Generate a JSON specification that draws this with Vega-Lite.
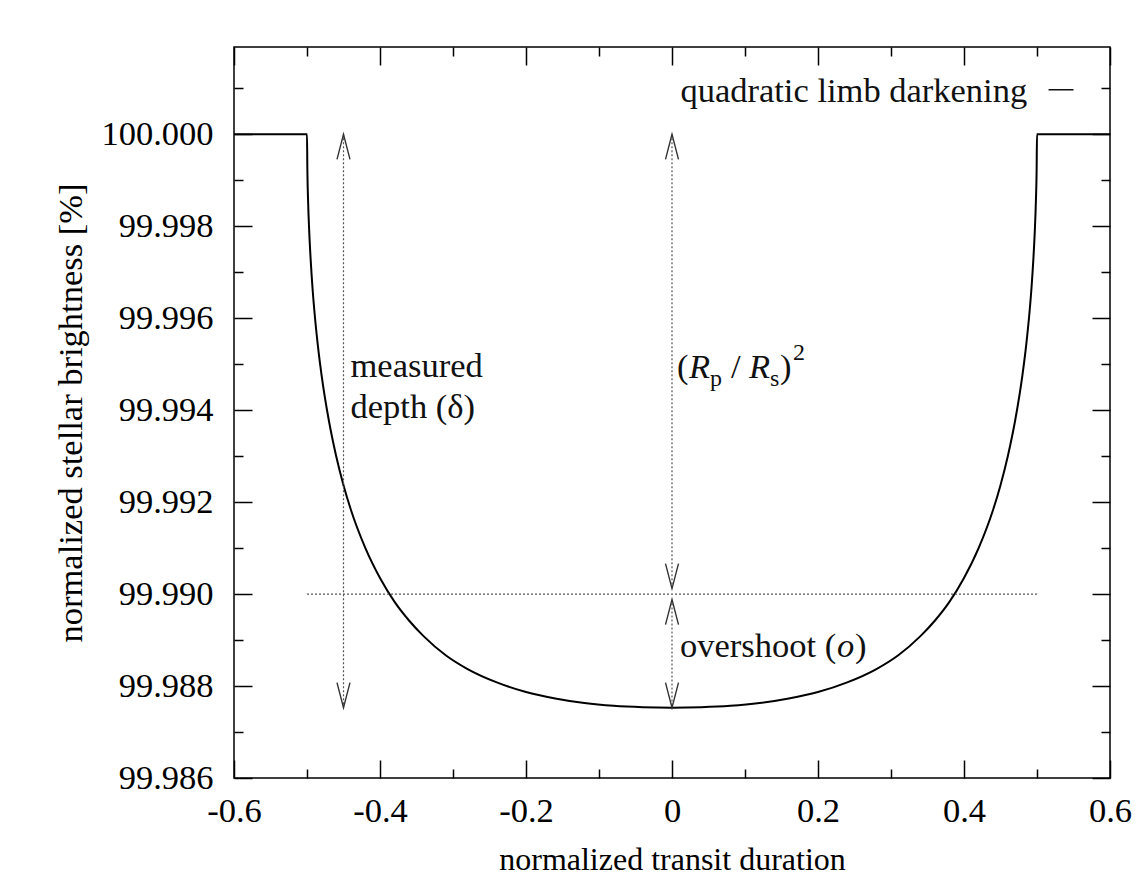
{
  "$schema": "https://vega.github.io/schema/vega-lite/v6.json",
  "width": 876,
  "height": 731,
  "autosize": {"type": "none"},
  "padding": {"left": 234, "top": 47, "right": 27, "bottom": 112},
  "background": "white",
  "config": {
    "view": {"stroke": "#000", "strokeWidth": 1.5},
    "font": "Liberation Serif",
    "axis": {
      "domain": false, "grid": false,
      "labelFont": "Liberation Serif", "labelFontSize": 34.5, "labelColor": "#000",
      "labelFlush": false, "labelOverlap": false,
      "titleFont": "Liberation Serif", "titleFontSize": 32, "titleFontWeight": "normal", "titleColor": "#000",
      "tickColor": "#000", "tickWidth": 1.5
    }
  },
  "datasets": {
    "curve": [
      {"x": -0.6, "y": 100.0}, {"x": -0.5, "y": 100.0}, {"x": -0.4995, "y": 99.99923}, {"x": -0.4985, "y": 99.99855},
      {"x": -0.497, "y": 99.9979}, {"x": -0.495, "y": 99.99728}, {"x": -0.4925, "y": 99.99667}, {"x": -0.49, "y": 99.99618},
      {"x": -0.485, "y": 99.99539}, {"x": -0.48, "y": 99.99476}, {"x": -0.47, "y": 99.99377}, {"x": -0.46, "y": 99.993},
      {"x": -0.45, "y": 99.99237}, {"x": -0.44, "y": 99.99184}, {"x": -0.42, "y": 99.991}, {"x": -0.4, "y": 99.99035},
      {"x": -0.38, "y": 99.98983}, {"x": -0.36, "y": 99.98942}, {"x": -0.34, "y": 99.98908}, {"x": -0.31, "y": 99.98867},
      {"x": -0.28, "y": 99.98837}, {"x": -0.24, "y": 99.98808}, {"x": -0.2, "y": 99.98787}, {"x": -0.16, "y": 99.98773},
      {"x": -0.12, "y": 99.98763}, {"x": -0.08, "y": 99.98757}, {"x": -0.04, "y": 99.98754}, {"x": 0, "y": 99.98753},
      {"x": 0.04, "y": 99.98754}, {"x": 0.08, "y": 99.98757}, {"x": 0.12, "y": 99.98763}, {"x": 0.16, "y": 99.98773},
      {"x": 0.2, "y": 99.98787}, {"x": 0.24, "y": 99.98808}, {"x": 0.28, "y": 99.98837}, {"x": 0.31, "y": 99.98867},
      {"x": 0.34, "y": 99.98908}, {"x": 0.36, "y": 99.98942}, {"x": 0.38, "y": 99.98983}, {"x": 0.4, "y": 99.99035},
      {"x": 0.42, "y": 99.991}, {"x": 0.44, "y": 99.99184}, {"x": 0.45, "y": 99.99237}, {"x": 0.46, "y": 99.993},
      {"x": 0.47, "y": 99.99377}, {"x": 0.48, "y": 99.99476}, {"x": 0.485, "y": 99.99539}, {"x": 0.49, "y": 99.99618},
      {"x": 0.4925, "y": 99.99667}, {"x": 0.495, "y": 99.99728}, {"x": 0.497, "y": 99.9979}, {"x": 0.4985, "y": 99.99855},
      {"x": 0.4995, "y": 99.99923}, {"x": 0.5, "y": 100.0}, {"x": 0.6, "y": 100.0}
    ]
  },
  "resolve": {"axis": {"x": "independent", "y": "independent"}},
  "layer": [
    {
      "data": {"name": "curve"},
      "mark": {"type": "line", "color": "#000", "strokeWidth": 2, "interpolate": "monotone"},
      "encoding": {
        "x": {"field": "x", "type": "quantitative", "scale": {"domain": [-0.6, 0.6], "nice": false, "zero": false},
          "axis": {"orient": "bottom", "values": [-0.6, -0.4, -0.2, 0, 0.2, 0.4, 0.6], "ticks": false, "labelPadding": 16,
            "labelExpr": "abs(datum.value) < 1e-9 ? '0' : replace(format(datum.value, '.1f'), '\u2212', '-')",
            "title": "normalized transit duration", "titlePadding": 17}},
        "y": {"field": "y", "type": "quantitative", "scale": {"domain": [99.986, 100.0019], "nice": false, "zero": false},
          "axis": {"orient": "left", "values": [99.986, 99.988, 99.99, 99.992, 99.994, 99.996, 99.998, 100.0], "ticks": false,
            "labelPadding": 21, "format": ".3f", "title": "normalized stellar brightness [%]", "titleFontSize": 34.5, "titlePadding": 12}}
      }
    },
    {
      "data": {"values": [{"x": -0.5, "x2": 0.5, "y": 99.99}]},
      "mark": {"type": "rule", "color": "#555", "strokeWidth": 1.2, "strokeDash": [2, 2]},
      "encoding": {
        "x": {"field": "x", "type": "quantitative", "scale": {"domain": [-0.6, 0.6], "nice": false, "zero": false},
          "axis": {"orient": "bottom", "values": [-0.6, -0.4, -0.2, 0, 0.2, 0.4, 0.6], "labels": false, "tickSize": -18, "title": null}},
        "x2": {"field": "x2"},
        "y": {"field": "y", "type": "quantitative", "scale": {"domain": [99.986, 100.0019], "nice": false, "zero": false},
          "axis": {"orient": "left", "values": [99.986, 99.988, 99.99, 99.992, 99.994, 99.996, 99.998, 100.0], "labels": false, "tickSize": -18, "title": null}}
      }
    },
    {
      "data": {"values": [
        {"x": -0.45, "y": 100.0, "y2": 99.98753},
        {"x": 0, "y": 100.0, "y2": 99.99012},
        {"x": 0, "y": 99.98988, "y2": 99.98753}
      ]},
      "mark": {"type": "rule", "color": "#555", "strokeWidth": 1.2, "strokeDash": [2, 2]},
      "encoding": {
        "x": {"field": "x", "type": "quantitative", "scale": {"domain": [-0.6, 0.6], "nice": false, "zero": false},
          "axis": {"orient": "bottom", "values": [-0.5, -0.3, -0.1, 0.1, 0.3, 0.5], "labels": false, "tickSize": -9, "title": null}},
        "y": {"field": "y", "type": "quantitative", "scale": {"domain": [99.986, 100.0019], "nice": false, "zero": false},
          "axis": {"orient": "left", "values": [99.987, 99.989, 99.991, 99.993, 99.995, 99.997, 99.999, 100.001], "labels": false, "tickSize": -9, "title": null}},
        "y2": {"field": "y2"}
      }
    },
    {
      "data": {"values": [{"x": -0.45, "y": 100.0}, {"x": 0, "y": 100.0}, {"x": 0, "y": 99.98988}]},
      "mark": {"type": "point", "shape": "M-0.26,1L0,0L0.26,1", "size": 2500, "filled": false, "color": "#333", "strokeWidth": 1.4, "opacity": 1},
      "encoding": {
        "x": {"field": "x", "type": "quantitative", "scale": {"domain": [-0.6, 0.6], "nice": false, "zero": false},
          "axis": {"orient": "top", "values": [-0.6, -0.4, -0.2, 0, 0.2, 0.4, 0.6], "labels": false, "tickSize": -18, "title": null}},
        "y": {"field": "y", "type": "quantitative", "scale": {"domain": [99.986, 100.0019], "nice": false, "zero": false},
          "axis": {"orient": "right", "values": [99.986, 99.988, 99.99, 99.992, 99.994, 99.996, 99.998, 100.0], "labels": false, "tickSize": -18, "title": null}}
      }
    },
    {
      "data": {"values": [{"x": -0.45, "y": 99.98753}, {"x": 0, "y": 99.99012}, {"x": 0, "y": 99.98753}]},
      "mark": {"type": "point", "shape": "M-0.26,-1L0,0L0.26,-1", "size": 2500, "filled": false, "color": "#333", "strokeWidth": 1.4, "opacity": 1},
      "encoding": {
        "x": {"field": "x", "type": "quantitative", "scale": {"domain": [-0.6, 0.6], "nice": false, "zero": false},
          "axis": {"orient": "top", "values": [-0.5, -0.3, -0.1, 0.1, 0.3, 0.5], "labels": false, "tickSize": -9, "title": null}},
        "y": {"field": "y", "type": "quantitative", "scale": {"domain": [99.986, 100.0019], "nice": false, "zero": false},
          "axis": {"orient": "right", "values": [99.987, 99.989, 99.991, 99.993, 99.995, 99.997, 99.999, 100.001], "labels": false, "tickSize": -9, "title": null}}
      }
    },
    {
      "data": {"values": [{"x": 0.5158, "x2": 0.55, "y": 100.00097}]},
      "mark": {"type": "rule", "color": "#111", "strokeWidth": 1.5},
      "encoding": {
        "x": {"field": "x", "type": "quantitative", "axis": null},
        "x2": {"field": "x2"},
        "y": {"field": "y", "type": "quantitative", "axis": null}
      }
    },
    {
      "data": {"values": [{"x": 0.4866, "y": 100.0007, "t": "quadratic limb darkening"}]},
      "mark": {"type": "text", "align": "right", "baseline": "alphabetic", "fontSize": 34.5, "font": "Liberation Serif", "color": "#111"},
      "encoding": {
        "x": {"field": "x", "type": "quantitative", "axis": null},
        "y": {"field": "y", "type": "quantitative", "axis": null},
        "text": {"field": "t"}
      }
    },
    {
      "data": {"values": [{"x": -0.45, "y": 99.99472, "t": "measured"}, {"x": -0.45, "y": 99.99383, "t": "depth (δ)"}]},
      "mark": {"type": "text", "align": "left", "baseline": "alphabetic", "dx": 7, "fontSize": 34.5, "font": "Liberation Serif", "color": "#111"},
      "encoding": {
        "x": {"field": "x", "type": "quantitative", "axis": null},
        "y": {"field": "y", "type": "quantitative", "axis": null},
        "text": {"field": "t"}
      }
    },
    {
      "data": {"values": [{"x": 0, "y": 99.9947, "t": "("}]},
      "mark": {"type": "text", "align": "left", "baseline": "alphabetic", "dx": 5, "fontSize": 34.5, "font": "Liberation Serif", "color": "#111"},
      "encoding": {"x": {"field": "x", "type": "quantitative", "axis": null}, "y": {"field": "y", "type": "quantitative", "axis": null}, "text": {"field": "t"}}
    },
    {
      "data": {"values": [{"x": 0, "y": 99.9947, "t": "R"}]},
      "mark": {"type": "text", "align": "left", "baseline": "alphabetic", "dx": 17, "fontSize": 34.5, "fontStyle": "italic", "font": "Liberation Serif", "color": "#111"},
      "encoding": {"x": {"field": "x", "type": "quantitative", "axis": null}, "y": {"field": "y", "type": "quantitative", "axis": null}, "text": {"field": "t"}}
    },
    {
      "data": {"values": [{"x": 0, "y": 99.9947, "t": "p"}]},
      "mark": {"type": "text", "align": "left", "baseline": "alphabetic", "dx": 38, "dy": 8, "fontSize": 24, "font": "Liberation Serif", "color": "#111"},
      "encoding": {"x": {"field": "x", "type": "quantitative", "axis": null}, "y": {"field": "y", "type": "quantitative", "axis": null}, "text": {"field": "t"}}
    },
    {
      "data": {"values": [{"x": 0, "y": 99.9947, "t": "/"}]},
      "mark": {"type": "text", "align": "left", "baseline": "alphabetic", "dx": 59, "fontSize": 34.5, "font": "Liberation Serif", "color": "#111"},
      "encoding": {"x": {"field": "x", "type": "quantitative", "axis": null}, "y": {"field": "y", "type": "quantitative", "axis": null}, "text": {"field": "t"}}
    },
    {
      "data": {"values": [{"x": 0, "y": 99.9947, "t": "R"}]},
      "mark": {"type": "text", "align": "left", "baseline": "alphabetic", "dx": 77, "fontSize": 34.5, "fontStyle": "italic", "font": "Liberation Serif", "color": "#111"},
      "encoding": {"x": {"field": "x", "type": "quantitative", "axis": null}, "y": {"field": "y", "type": "quantitative", "axis": null}, "text": {"field": "t"}}
    },
    {
      "data": {"values": [{"x": 0, "y": 99.9947, "t": "s"}]},
      "mark": {"type": "text", "align": "left", "baseline": "alphabetic", "dx": 98, "dy": 8, "fontSize": 24, "font": "Liberation Serif", "color": "#111"},
      "encoding": {"x": {"field": "x", "type": "quantitative", "axis": null}, "y": {"field": "y", "type": "quantitative", "axis": null}, "text": {"field": "t"}}
    },
    {
      "data": {"values": [{"x": 0, "y": 99.9947, "t": ")"}]},
      "mark": {"type": "text", "align": "left", "baseline": "alphabetic", "dx": 108, "fontSize": 34.5, "font": "Liberation Serif", "color": "#111"},
      "encoding": {"x": {"field": "x", "type": "quantitative", "axis": null}, "y": {"field": "y", "type": "quantitative", "axis": null}, "text": {"field": "t"}}
    },
    {
      "data": {"values": [{"x": 0, "y": 99.9947, "t": "2"}]},
      "mark": {"type": "text", "align": "left", "baseline": "alphabetic", "dx": 121, "dy": -18, "fontSize": 24, "font": "Liberation Serif", "color": "#111"},
      "encoding": {"x": {"field": "x", "type": "quantitative", "axis": null}, "y": {"field": "y", "type": "quantitative", "axis": null}, "text": {"field": "t"}}
    },
    {
      "data": {"values": [{"x": 0, "y": 99.98863, "t": "overshoot ("}]},
      "mark": {"type": "text", "align": "left", "baseline": "alphabetic", "dx": 8, "fontSize": 34.5, "font": "Liberation Serif", "color": "#111"},
      "encoding": {"x": {"field": "x", "type": "quantitative", "axis": null}, "y": {"field": "y", "type": "quantitative", "axis": null}, "text": {"field": "t"}}
    },
    {
      "data": {"values": [{"x": 0, "y": 99.98863, "t": "o"}]},
      "mark": {"type": "text", "align": "left", "baseline": "alphabetic", "dx": 165, "fontSize": 34.5, "fontStyle": "italic", "font": "Liberation Serif", "color": "#111"},
      "encoding": {"x": {"field": "x", "type": "quantitative", "axis": null}, "y": {"field": "y", "type": "quantitative", "axis": null}, "text": {"field": "t"}}
    },
    {
      "data": {"values": [{"x": 0, "y": 99.98863, "t": ")"}]},
      "mark": {"type": "text", "align": "left", "baseline": "alphabetic", "dx": 183, "fontSize": 34.5, "font": "Liberation Serif", "color": "#111"},
      "encoding": {"x": {"field": "x", "type": "quantitative", "axis": null}, "y": {"field": "y", "type": "quantitative", "axis": null}, "text": {"field": "t"}}
    }
  ]
}
